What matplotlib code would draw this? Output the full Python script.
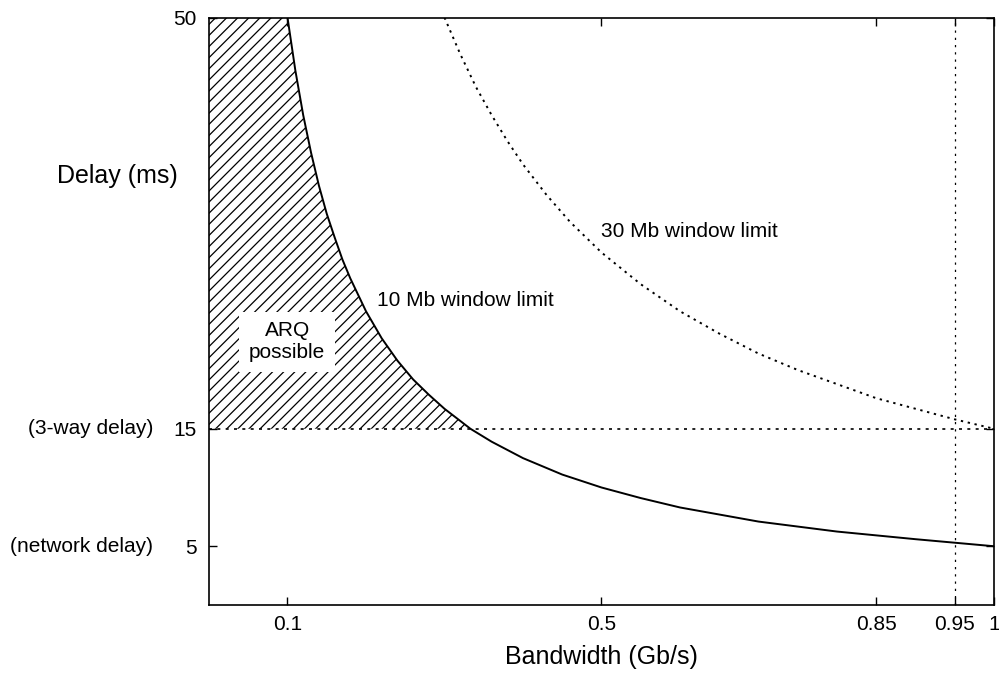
import matplotlib
matplotlib.use("Agg")
import matplotlib.pyplot as plt
import matplotlib.transforms as mtransforms

plt.rcParams['font.family'] = ['Liberation Sans', 'DejaVu Sans']
plt.rcParams['hatch.linewidth'] = 0.9

# bandwidth (Gb/s) and delay (ms)
bw_10mb = [0.10, 0.11, 0.12, 0.13, 0.14, 0.15, 0.16, 0.17, 0.18, 0.20, 0.22, 0.24,
           0.26, 0.28, 0.30, 0.333, 0.36, 0.40, 0.45, 0.50, 0.55, 0.60, 0.70,
           0.80, 0.90, 1.00]
delay_10mb = [50.0, 45.5, 41.7, 38.5, 35.7, 33.3, 31.3, 29.4, 27.8, 25.0, 22.7, 20.8,
              19.2, 17.9, 16.7, 15.0, 13.9, 12.5, 11.1, 10.0, 9.1, 8.3, 7.1,
              6.25, 5.6, 5.0]

bw_30mb = [0.30, 0.32, 0.34, 0.36, 0.38, 0.40, 0.43, 0.46, 0.50, 0.55, 0.60, 0.65,
           0.70, 0.75, 0.80, 0.85, 0.90, 0.95, 1.00]
delay_30mb = [50.0, 46.9, 44.1, 41.7, 39.5, 37.5, 34.9, 32.6, 30.0, 27.3, 25.0, 23.1,
              21.4, 20.0, 18.8, 17.6, 16.7, 15.8, 15.0]

# hatched "ARQ possible" region: left of the 10 Mb curve, above 3-way delay
bw_arq = [0.0, 0.10, 0.11, 0.12, 0.13, 0.14, 0.15, 0.16, 0.17, 0.18, 0.20, 0.22,
          0.24, 0.26, 0.28, 0.30, 0.333]
delay_arq = [50.0, 50.0, 45.5, 41.7, 38.5, 35.7, 33.3, 31.3, 29.4, 27.8, 25.0, 22.7,
             20.8, 19.2, 17.9, 16.7, 15.0]

three_way_delay = 15
network_delay = 5
bw_limit = 0.95

x_ticks = [0.1, 0.5, 0.85, 0.95, 1]
x_tick_labels = ["0.1", "0.5", "0.85", "0.95", "1"]
y_ticks = [5, 15, 50]
y_tick_labels = ["5", "15", "50"]

fig = plt.figure(figsize=(9.99, 6.79), dpi=100)
ax = fig.add_axes([0.2092, 0.109, 0.7858, 0.8652])

ax.fill_between(bw_arq, three_way_delay, delay_arq, facecolor='none',
                edgecolor='black', hatch='///', linewidth=0)

ax.plot(bw_10mb, delay_10mb, color='black', lw=1.4)
ax.plot(bw_30mb, delay_30mb, color='black', lw=1.4, linestyle=(0, (1.2, 2.4)))
ax.axhline(three_way_delay, color='black', lw=1.2, linestyle=(0, (1.8, 3.2)))
ax.axvline(bw_limit, color='black', lw=0.9, linestyle=(0, (1.8, 4)))

ax.text(0.0995, 22.4, "ARQ\npossible", ha='center', va='center', fontsize=15,
        linespacing=1.2,
        bbox=dict(facecolor='white', edgecolor='none', pad=7))
ax.text(0.214, 25.9, "10 Mb window limit", ha='left', va='center', fontsize=15)
ax.text(0.500, 31.8, "30 Mb window limit", ha='left', va='center', fontsize=15)

ax.set_xlim(0, 1)
ax.set_ylim(0, 50)
ax.set_xticks(x_ticks)
ax.set_xticklabels(x_tick_labels)
ax.set_yticks(y_ticks)
ax.set_yticklabels(y_tick_labels)
ax.tick_params(direction='in', length=6, width=1, labelsize=15,
               top=True, right=True)
ax.tick_params(axis='x', pad=7)
ax.tick_params(axis='y', pad=9)

# extra descriptions beside the y tick labels
trans = mtransforms.blended_transform_factory(ax.transAxes, ax.transData)
ax.text(-0.0712, three_way_delay, "(3-way delay)", transform=trans,
        ha='right', va='center', fontsize=15)
ax.text(-0.0712, network_delay, "(network delay)", transform=trans,
        ha='right', va='center', fontsize=15)

ax.set_xlabel("Bandwidth (Gb/s)", fontsize=18, labelpad=8)
ax.set_ylabel("Delay (ms)", fontsize=18, rotation=0, ha='center', va='center')
ax.yaxis.set_label_coords(-0.117, 0.73)

for s in ax.spines.values():
    s.set_linewidth(1.2)

fig.savefig("out.png", dpi=100)
